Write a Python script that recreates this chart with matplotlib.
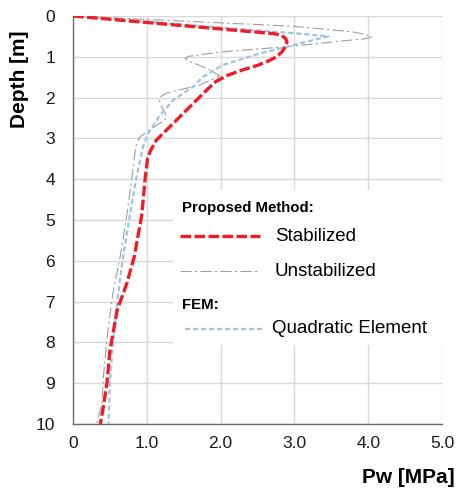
import matplotlib
matplotlib.use("Agg")
from matplotlib import pyplot as plt
from matplotlib.patches import Rectangle

plt.rcParams['font.family'] = ['Liberation Sans', 'DejaVu Sans']

# pore pressure profiles, depth in m, Pw in MPa
depth_stab = [0, 0.43, 0.47, 0.55, 0.63, 0.75, 0.88, 1.0, 1.1, 1.21, 1.32, 1.45, 1.6, 1.8,
              2.14, 2.63, 3.04, 3.3, 3.5, 3.94, 4.9, 5.9, 6.55, 7.2, 8.2, 9.0, 9.6, 10]
pw_stab = [0, 2.71, 2.82, 2.88, 2.9, 2.88, 2.83, 2.76, 2.65, 2.5, 2.3, 2.1, 1.94, 1.82,
           1.63, 1.36, 1.13, 1.05, 1.01, 0.98, 0.93, 0.83, 0.73, 0.6, 0.5, 0.46, 0.41, 0.37]

depth_unstab = [0, 0.25, 0.39, 0.46, 0.51, 0.56, 0.61, 0.74, 0.87, 0.94, 0.99, 1.04, 1.1,
                1.2, 1.32, 1.47, 1.69, 1.89, 1.97, 2.06, 2.18, 2.35, 2.47, 2.56, 2.67, 2.96,
                3.08, 3.2, 3.95, 5.0, 5.7, 6.8, 7.9, 8.9, 9.5, 10]
pw_unstab = [0, 2.98, 3.79, 3.98, 4.05, 3.95, 3.66, 2.98, 2.08, 1.75, 1.56, 1.52, 1.56,
             1.7, 1.85, 1.99, 1.72, 1.27, 1.19, 1.17, 1.19, 1.24, 1.27, 1.24, 1.14, 0.91,
             0.87, 0.85, 0.8, 0.72, 0.66, 0.54, 0.46, 0.41, 0.39, 0.32]

depth_fem = [0, 0.42, 0.47, 0.5, 0.57, 0.67, 0.92, 1.2, 1.49, 1.73, 2.06, 2.43, 2.87, 3.2,
             3.95, 5.0, 6.0, 7.0, 8.0, 9.0, 10]
pw_fem = [0, 2.98, 3.3, 3.46, 3.3, 3.08, 2.53, 2.03, 1.76, 1.63, 1.36, 1.18, 1.02, 0.95,
          0.86, 0.76, 0.67, 0.6, 0.54, 0.5, 0.48]

x_ticks = [0, 1, 2, 3, 4, 5]
x_ticklabels = ['0', '1.0', '2.0', '3.0', '4.0', '5.0']
y_ticks = list(range(11))

red = '#EF1D25'
grey = '#9E9E9E'
blue = '#9DC3E6'
red_dash = (3.2, 1.0)
grey_dash = (10, 3, 2, 3)
blue_dash = (2.3, 1.3)

fig = plt.figure(figsize=(4.58, 4.93), dpi=100)
ax = fig.add_axes([73 / 458, 1 - 424 / 493, 369 / 458, 408 / 493])

ax.plot(pw_unstab, depth_unstab, color=grey, lw=0.8, dashes=grey_dash, zorder=3)
ax.plot(pw_fem, depth_fem, color=blue, lw=1.6, dashes=blue_dash, zorder=4)
ax.plot(pw_stab, depth_stab, color=red, lw=2.4, dashes=red_dash, zorder=5,
        solid_joinstyle='round', dash_joinstyle='round')

ax.set_xlim(0, 5)
ax.set_ylim(10, 0)
ax.set_xticks(x_ticks)
ax.set_xticklabels(x_ticklabels)
ax.set_yticks(y_ticks)
ax.tick_params(length=0, labelsize=12.5, colors='#1a1a1a')
ax.tick_params(axis='x', pad=9)
ax.tick_params(axis='y', pad=13)
ax.grid(True, color='#D9D9D9', lw=1.0, zorder=0)
ax.set_axisbelow(True)
for s in ['top', 'right']:
    ax.spines[s].set_visible(False)
for s in ['left', 'bottom']:
    ax.spines[s].set_color('#6b6b6b')
    ax.spines[s].set_linewidth(1.0)

ax.set_xlabel('Pw [MPa]', fontsize=15, fontweight='bold', ha='right', va='center')
ax.xaxis.set_label_coords(1.035, -0.132)
ax.set_ylabel('Depth [m]', fontsize=15, fontweight='bold', ha='right', va='center')
ax.yaxis.set_label_coords(-0.145, 0.965)

# legend block drawn by hand: white box over the grid, headers and samples
T = ax.transAxes
ax.add_patch(Rectangle((0.272, 0.194), 0.73, 0.38, transform=T, facecolor='white',
                       edgecolor='none', zorder=1, clip_on=False))
ax.text(0.295, 0.530, 'Proposed Method:', transform=T, fontsize=10.8, fontweight='bold',
        va='center', zorder=6)
ax.plot([0.290, 0.508], [0.460, 0.460], transform=T, color=red, lw=2.4, dashes=red_dash,
        zorder=6)
ax.text(0.548, 0.460, 'Stabilized', transform=T, fontsize=13.5, va='center', zorder=6)
ax.plot([0.290, 0.503], [0.374, 0.374], transform=T, color=grey, lw=0.8,
        dashes=grey_dash, zorder=6)
ax.text(0.545, 0.374, 'Unstabilized', transform=T, fontsize=13.5, va='center', zorder=6)
ax.text(0.295, 0.292, 'FEM:', transform=T, fontsize=10.8, fontweight='bold', va='center',
        zorder=6)
ax.plot([0.303, 0.513], [0.234, 0.234], transform=T, color=blue, lw=1.6, dashes=blue_dash,
        zorder=6)
ax.text(0.540, 0.234, 'Quadratic Element', transform=T, fontsize=13.5, va='center', zorder=6)

plt.savefig('out.png', dpi=100)
